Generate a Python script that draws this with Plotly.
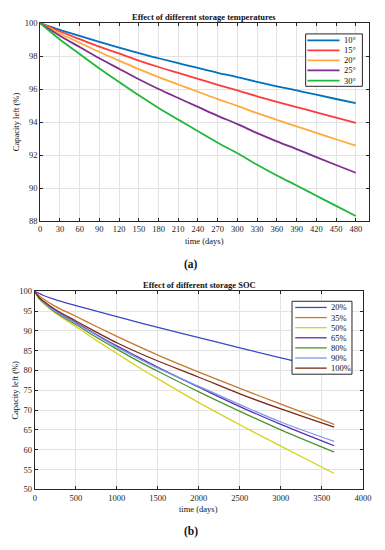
import plotly.graph_objects as go

# ---------------- Panel (a): storage temperature ----------------
days_a = [0, 30, 60, 90, 120, 150, 180, 210, 240, 270, 300, 330, 360, 390, 420, 450, 480]
temp_labels = ["10°", "15°", "20°", "25°", "30°"]
temp_colors = ["#0072BD", "#FF3B3B", "#FFAA3A", "#7E2F8E", "#1FB83A"]
cap_10 = [100, 99.59, 99.22, 98.86, 98.52, 98.18, 97.87, 97.57, 97.28, 96.99, 96.73, 96.44, 96.17, 95.92, 95.66, 95.40, 95.15]
cap_15 = [100, 99.49, 99.03, 98.58, 98.16, 97.73, 97.34, 96.98, 96.62, 96.26, 95.92, 95.56, 95.23, 94.91, 94.59, 94.27, 93.96]
cap_20 = [100, 99.37, 98.81, 98.25, 97.73, 97.21, 96.73, 96.28, 95.84, 95.39, 94.98, 94.54, 94.13, 93.74, 93.35, 92.96, 92.57]
cap_25 = [100, 99.23, 98.55, 97.87, 97.23, 96.60, 96.01, 95.46, 94.92, 94.38, 93.88, 93.33, 92.83, 92.36, 91.88, 91.40, 90.93]
cap_30 = [100, 99.01, 98.13, 97.25, 96.43, 95.62, 94.86, 94.15, 93.45, 92.75, 92.11, 91.41, 90.76, 90.16, 89.54, 88.92, 88.31]
series_a = [cap_10, cap_15, cap_20, cap_25, cap_30]
ticks_a_x = list(range(0, 481, 30))
ticks_a_y = [88, 90, 92, 94, 96, 98, 100]

# ---------------- Panel (b): storage SOC ----------------
days_b = [0, 50, 100, 250, 500, 750, 1000, 1250, 1500, 2000, 2500, 3000, 3650]
soc_labels = ["20%", "35%", "50%", "65%", "80%", "90%", "100%"]
soc_colors = ["#3A48C8", "#C8782E", "#D8D21E", "#5A30B4", "#4A9630", "#7C98E8", "#7A2A18"]
soc_20 = [100, 99.5, 99.0, 97.9, 96.4, 95.0, 93.6, 92.2, 90.9, 88.3, 85.7, 83.2, 80.2]
soc_35 = [100, 98.9, 98.1, 96.2, 93.7, 91.1, 88.6, 86.2, 83.9, 79.6, 75.5, 71.5, 66.4]
soc_50 = [100, 98.2, 97.1, 94.5, 91.1, 87.6, 84.3, 81.0, 77.9, 71.9, 66.3, 60.9, 54.0]
soc_65 = [100, 98.4, 97.4, 95.0, 92.1, 89.1, 86.2, 83.5, 80.8, 75.8, 70.9, 66.4, 61.0]
soc_80 = [100, 98.3, 97.2, 94.7, 91.6, 88.4, 85.4, 82.5, 79.8, 74.6, 69.7, 65.0, 59.4]
soc_90 = [100, 98.4, 97.3, 94.9, 91.9, 88.9, 85.9, 83.2, 80.6, 76.0, 71.4, 67.0, 62.1]
soc_100 = [100, 98.5, 97.6, 95.4, 92.5, 89.7, 87.0, 84.6, 82.4, 78.3, 74.1, 70.3, 65.7]
series_b = [soc_20, soc_35, soc_50, soc_65, soc_80, soc_90, soc_100]
ticks_b_x = list(range(0, 4001, 500))
ticks_b_y = list(range(50, 101, 5))

# page body has an 8px default margin: figure is sized to fill the rest of the window
OFF = 8
W, H = 385 - OFF, 550 - OFF
FONT = "Liberation Serif"
AX = "#262626"


def px(x):
    return (x - OFF) / W


def py(y):
    return 1 - (y - OFF) / H


fig = go.Figure()
for vals, name, col in zip(series_a, temp_labels, temp_colors):
    fig.add_trace(go.Scatter(x=days_a, y=vals, mode="lines", name=name,
                             line=dict(color=col, width=1.8, shape="spline"),
                             xaxis="x", yaxis="y", showlegend=False))
for vals, name, col in zip(series_b, soc_labels, soc_colors):
    fig.add_trace(go.Scatter(x=days_b, y=vals, mode="lines", name=name,
                             line=dict(color=col, width=1.3, shape="spline"),
                             xaxis="x2", yaxis="y2", showlegend=False))

axis_common = dict(showline=True, linecolor=AX, linewidth=1, mirror="ticks",
                   ticks="inside", ticklen=3, tickcolor=AX, showgrid=True,
                   gridcolor="#E3E3E3", gridwidth=1, zeroline=False,
                   tickfont=dict(family=FONT, size=8.5, color=AX))

fig.update_layout(
    width=W, height=H, margin=dict(l=0, r=0, t=0, b=0),
    paper_bgcolor="white", plot_bgcolor="white",
    xaxis=dict(domain=[px(39), px(376.7)], range=[0, 500], tickvals=ticks_a_x,
               anchor="y", **axis_common),
    yaxis=dict(domain=[py(220), py(18.3)], range=[88, 100], tickvals=ticks_a_y,
               anchor="x", **axis_common),
    xaxis2=dict(domain=[px(33.5), px(370.5)], range=[0, 4000], tickvals=ticks_b_x,
                anchor="y2", **axis_common),
    yaxis2=dict(domain=[py(493.3), py(291.5)], range=[50, 100], tickvals=ticks_b_y,
                anchor="x2", **axis_common),
)

ann = []


def text(x, y, s, size=8.5, bold=False, angle=0):
    ann.append(dict(x=px(x), y=py(y), xref="paper", yref="paper", text=("<b>%s</b>" % s) if bold else s,
                    showarrow=False, textangle=angle, xanchor="center", yanchor="middle",
                    font=dict(family=FONT, size=size, color="#111111")))


text(207.7, 12.3, "Effect of different storage temperatures", size=8.5, bold=True)
text(14.5, 119, "Capacity left (%)", angle=-90)
text(207.5, 240.7, "time (days)")
text(194.3, 264.5, "(a)", size=11.5, bold=True)

text(202.5, 285, "Effect of different storage SOC", size=8.5, bold=True)
text(12.8, 392, "Capacity left (%)", angle=-90)
text(202, 513.3, "time (days)")
text(194, 536.7, "(b)", size=11.5, bold=True)

shapes = []


def legend(box, x_line0, x_line1, x_text, y0, dy, labels, colors, lw):
    shapes.append(dict(type="rect", xref="paper", yref="paper",
                       x0=px(box[0]), x1=px(box[1]), y0=py(box[3]), y1=py(box[2]),
                       line=dict(color=AX, width=1), fillcolor="white", layer="above"))
    for i, (lab, col) in enumerate(zip(labels, colors)):
        yy = y0 + i * dy
        shapes.append(dict(type="line", xref="paper", yref="paper",
                           x0=px(x_line0), x1=px(x_line1), y0=py(yy), y1=py(yy),
                           line=dict(color=col, width=lw), layer="above"))
        ann.append(dict(x=px(x_text), y=py(yy), xref="paper", yref="paper", text=lab,
                        showarrow=False, xanchor="left", yanchor="middle",
                        font=dict(family=FONT, size=8.5, color="#111111")))


legend((311.7, 370, 29.3, 82.7), 313.5, 346.5, 349.5, 35.8, 10.25, temp_labels, temp_colors, 1.8)
legend((297.7, 359.3, 301.7, 376), 301, 333.3, 335.5, 308, 10.3, soc_labels, soc_colors, 1.3)

fig.update_layout(annotations=ann, shapes=shapes)
fig.write_html("out.html")
